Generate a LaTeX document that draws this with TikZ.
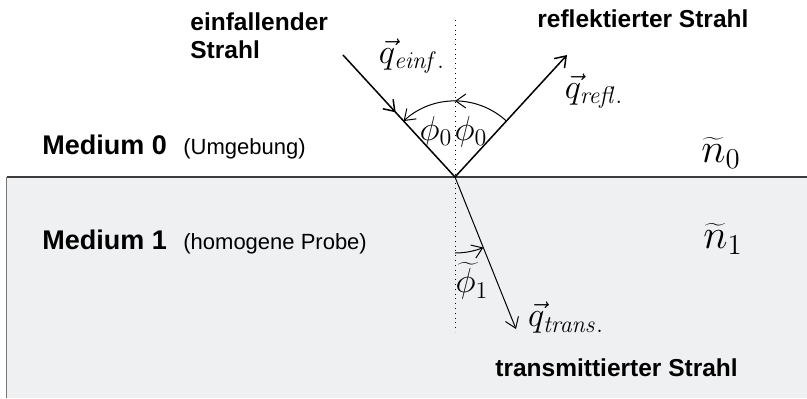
\documentclass[tikz,border=0pt]{standalone}
\usepackage[no-math]{fontspec}
\setmainfont{Liberation Sans}
\usetikzlibrary{arrows.meta,calc,decorations.markings}
\definecolor{probegray}{RGB}{239,240,242}
\definecolor{edgegray}{RGB}{60,60,60}

\begin{document}
\begin{tikzpicture}[x=0.5pt, y=0.5pt, line join=round,
  barb/.style={-{Straight Barb[length=5pt,width=7pt]}},
  lbl/.style={font=\fontsize{12.25}{14}\selectfont\bfseries, inner sep=0pt},
  medlbl/.style={font=\fontsize{13.5}{16}\selectfont\bfseries, inner sep=0pt},
  paren/.style={font=\fontsize{11}{13}\selectfont, inner sep=0pt},
  mth/.style={font=\fontsize{17}{19}\selectfont, inner sep=0pt}]
\useasboundingbox (-455,-221) rectangle (352,177);

% ============ MEDIUM 1: homogeneous sample (grey block below the interface) ============
\fill[probegray] (-448,0) rectangle (352,-221);
\draw[edgegray!70, line width=0.5pt] (-448,-221) -- (-448,0);
\draw[edgegray, line width=1pt] (-448,0) -- (352,0);

% ---- point of incidence and ray end points ----
\coordinate (Hit) at (0,0);
\coordinate (NormTop) at (0,157);
\coordinate (NormBot) at (0,-155);
\coordinate (EinfStart) at (-112,122);
\coordinate (ReflEnd) at (112,122);
\coordinate (TransEnd) at (61,-152);

% surface normal
\draw[dotted, line width=0.4pt] (NormTop) -- (NormBot);

% ============ RAYS ============
% incident ray, arrow tip half way along
\draw[line width=0.75pt, postaction={decorate},
  decoration={markings, mark=at position 0.47 with {\arrow{Straight Barb[length=5pt,width=7pt]}}}]
  (EinfStart) -- (Hit);
\draw[line width=0.75pt, barb] (Hit) -- (ReflEnd);
\draw[line width=0.5pt, barb] (Hit) -- (TransEnd);

% angle arcs
\draw[line width=0.5pt, barb, postaction={decorate},
  decoration={markings, mark=at position 0.5 with {\arrow{Straight Barb[length=5pt,width=7pt]}}}]
  ($(Hit)+(47.4:38pt)$) arc[start angle=47.4, end angle=132.6, radius=38pt];
\draw[line width=0.5pt, barb] ($(Hit)+(-90:38pt)$) arc[start angle=-90, end angle=-68.1, radius=38pt];

% ============ LABELS ============
\node[mth] (qEinf) at (-43,121) {$\vec{q}_{\mathit{einf.}}$};
\node[mth] (qRefl) at (139,86) {$\vec{q}_{\mathit{refl.}}$};
\node[mth] (qTrans) at (111,-141) {$\vec{q}_{\mathit{trans.}}$};
\node[mth] (phiLeft) at (-19,45) {$\phi_0$};
\node[mth] (phiRight) at (16,45) {$\phi_0$};
\node[mth] (phiTrans) at (17,-104) {$\widetilde{\phi}_1$};
\node[mth, font=\fontsize{20}{22}\selectfont] (nZero) at (266,24) {$\widetilde{n}_0$};
\node[mth, font=\fontsize{20}{22}\selectfont] (nOne) at (268,-62) {$\widetilde{n}_1$};

\node[lbl, anchor=north west, align=left] (einfLbl) at (-265,165) {einfallender\\Strahl};
\node[lbl, anchor=base west] (reflLbl) at (82,150) {reflektierter Strahl};
\node[lbl, anchor=base west] (transLbl) at (40,-199) {transmittierter Strahl};

\node[medlbl, anchor=base west] (medZero) at (-413,23) {Medium 0};
\node[paren, anchor=base west] (medZeroNote) at (-272,23) {(Umgebung)};
\node[medlbl, anchor=base west] (medOne) at (-413,-72) {Medium 1};
\node[paren, anchor=base west] (medOneNote) at (-272,-72) {(homogene Probe)};
\end{tikzpicture}
\end{document}
